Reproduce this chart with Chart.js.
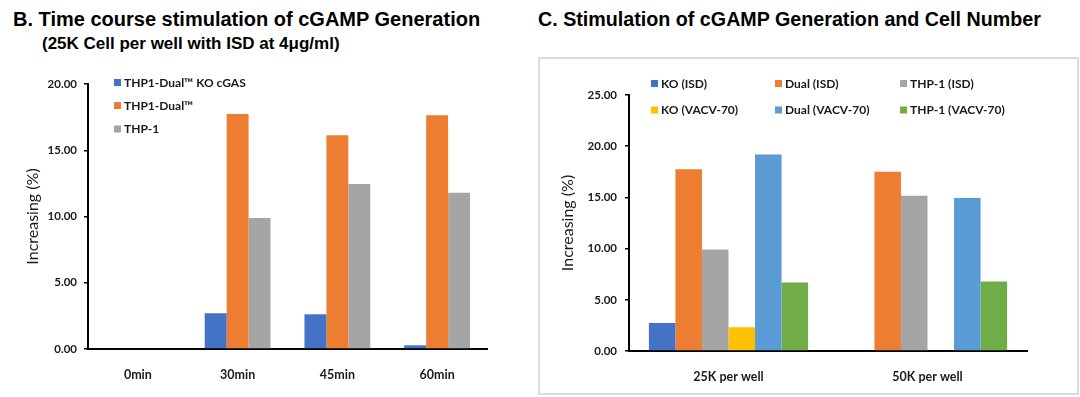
<!DOCTYPE html>
<html>
<head>
<meta charset="utf-8">
<script src="https://cdn.jsdelivr.net/npm/chart.js@4.4.1/dist/chart.umd.min.js"></script>
<style>
  html, body { margin: 0; padding: 0; background: #fff; }
  body { width: 1080px; height: 397px; position: relative; overflow: hidden; }
  .title { position: absolute; font-family: "Liberation Sans", Arial, sans-serif; font-weight: bold; color: #000; white-space: nowrap; line-height: normal; }
  .wrap { position: absolute; top: 0; width: 540px; height: 397px; }
  .box { position: absolute; left: 538px; top: 57px; width: 537px; height: 334px; border: 2px solid #dcdcdc; }
</style>
</head>
<body>
<div class="title" style="left:13px; top:8px; font-size:20px;">B. Time course stimulation of cGAMP Generation</div>
<div class="title" style="left:42px; top:34px; font-size:17px;">(25K Cell per well with ISD at 4μg/ml)</div>
<div class="title" style="left:538px; top:8px; font-size:19.7px;">C. Stimulation of cGAMP Generation and Cell Number</div>
<div class="box"></div>
<div class="wrap" style="left:0"><canvas id="chartB"></canvas></div>
<div class="wrap" style="left:540px"><canvas id="chartC"></canvas></div>
<script>
// --- chart B: time course ---
const timeLabels = ['0min', '30min', '45min', '60min'];
const koCgas = [0, 2.70, 2.62, 0.28];
const thp1Dual = [0, 17.74, 16.13, 17.64];
const thp1 = [0, 9.89, 12.45, 11.80];

// --- chart C: cell number ---
const wellLabels = ['25K per well', '50K per well'];
const koIsd = [2.74, 0];
const dualIsd = [17.76, 17.50];
const thp1Isd = [9.91, 15.15];
const koVacv = [2.32, 0];
const dualVacv = [19.20, 14.93];
const thp1Vacv = [6.68, 6.78];

const BLUE = '#4472C4', ORANGE = '#ED7D31', GRAY = '#A5A5A5';
const YELLOW = '#FFC000', LBLUE = '#5B9BD5', GREEN = '#70AD47';
const INK = '#1a1a1a';
const CAL = 'Lato, "Open Sans", sans-serif';

// legend drawn at fixed spots, like the Excel one
const makeLegend = (spots, font) => ({
    id: 'fixedLegend',
    afterDraw(chart) {
        const ctx = chart.ctx;
        ctx.save();
        ctx.font = font;
        ctx.textBaseline = 'middle';
        chart.data.datasets.forEach((ds, i) => {
            const p = spots[i];
            ctx.fillStyle = ds.backgroundColor;
            ctx.fillRect(p[0], p[1] - 3.5, 7, 7);
            ctx.fillStyle = INK;
            ctx.fillText(ds.label, p[0] + 10, p[1] + 0.5);
        });
        ctx.restore();
    }
});

const axes = (max, yWidth, xHeight, titlePad, tickPad) => ({
    x: {
        grid: { display: false },
        border: { display: true, color: '#000', width: 2 },
        ticks: { color: INK, padding: 10, font: { family: CAL, size: 12.5, weight: 'bold' } },
        afterFit: (s) => { s.height = xHeight; },
    },
    y: {
        min: 0, max: max,
        grid: { display: true, drawOnChartArea: false, drawTicks: true, tickLength: 4, color: '#000', lineWidth: 1.5 },
        border: { display: true, color: '#000', width: 2 },
        ticks: {
            stepSize: 5, color: INK, padding: tickPad,
            font: { family: CAL, size: 11.5, weight: 'bold' },
            callback: (v) => Number(v).toFixed(2),
        },
        title: {
            display: true, text: 'Increasing (%)', color: INK,
            font: { family: CAL, size: 16 }, padding: { top: titlePad, bottom: 0 },
        },
        afterFit: (s) => { s.width = yWidth; },
    },
});

const common = {
    responsive: true,
    maintainAspectRatio: false,
    animation: false,
    plugins: { legend: { display: false }, tooltip: { enabled: false } },
};

new Chart(document.getElementById('chartB'), {
    type: 'bar',
    data: {
        labels: timeLabels,
        datasets: [
            { label: 'THP1-Dual™ KO cGAS', data: koCgas, backgroundColor: BLUE },
            { label: 'THP1-Dual™', data: thp1Dual, backgroundColor: ORANGE },
            { label: 'THP-1', data: thp1, backgroundColor: GRAY },
        ].map(d => Object.assign(d, { barPercentage: 1, categoryPercentage: 0.66 })),
    },
    options: Object.assign({}, common, {
        layout: { padding: { top: 84, right: 53, left: 0, bottom: 0 } },
        scales: axes(20, 88, 48, 23, 7),
    }),
    plugins: [makeLegend([[114, 82.5], [114, 105.5], [114, 129]], 'bold 12px ' + CAL)],
});

new Chart(document.getElementById('chartC'), {
    type: 'bar',
    data: {
        labels: wellLabels,
        datasets: [
            { label: 'KO (ISD)', data: koIsd, backgroundColor: BLUE },
            { label: 'Dual (ISD)', data: dualIsd, backgroundColor: ORANGE },
            { label: 'THP-1 (ISD)', data: thp1Isd, backgroundColor: GRAY },
            { label: 'KO (VACV-70)', data: koVacv, backgroundColor: YELLOW },
            { label: 'Dual (VACV-70)', data: dualVacv, backgroundColor: LBLUE },
            { label: 'THP-1 (VACV-70)', data: thp1Vacv, backgroundColor: GREEN },
        ].map(d => Object.assign(d, { barPercentage: 1, categoryPercentage: 0.8 })),
    },
    options: Object.assign({}, common, {
        layout: { padding: { top: 95, right: 53, left: 0, bottom: 0 } },
        scales: axes(25, 89, 46, 18, 8),
    }),
    plugins: [makeLegend([[111, 83.5], [235, 83.5], [360, 83.5], [111, 110], [235, 110], [360, 110]], 'bold 12px ' + CAL)],
});
</script>
</body>
</html>
